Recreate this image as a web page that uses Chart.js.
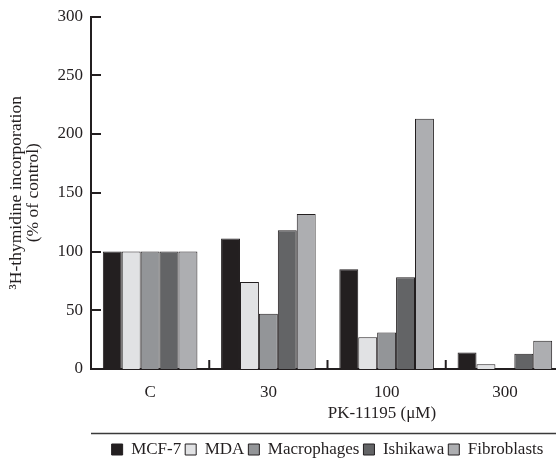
<!DOCTYPE html>
<html lang="en">
  <head>
    <meta charset="UTF-8" />
    <title>PK-11195 thymidine incorporation</title>
    <script src="https://cdn.jsdelivr.net/npm/chart.js"></script>
    <style>
      html, body { margin: 0; padding: 0; overflow: hidden; background: #fff; }
      #wrap { width: 566px; height: 463px; }
    </style>
  </head>
  <body>
    <div id="wrap"><canvas id="thymidineChart"></canvas></div>

    <script>
      // categories (PK-11195 concentration)
      const doses = ['C', '30', '100', '300']
      // series values, % of control
      const mcf7 = [100, 111, 85, 14]
      const mda = [100, 74, 27, 4]
      const macrophages = [100, 47, 31, 0]
      const ishikawa = [100, 118, 78, 13]
      const fibroblasts = [100, 132, 213, 24]
      const yTicks = [0, 50, 100, 150, 200, 250, 300]

      const ink = '#231f20'
      const serif = 'Liberation Serif, Times New Roman, serif'

      // little inward tick marks + separator line + x title
      const extras = {
        id: 'extras',
        afterLayout(chart) {
          // push the legend a bit lower
          chart.legend.top += 5
          chart.legend.bottom += 5
        },
        afterDraw(chart) {
          const ctx = chart.ctx
          const area = chart.chartArea
          const y = chart.scales.y
          const x = chart.scales.x
          ctx.save()
          ctx.strokeStyle = ink
          ctx.lineWidth = 2
          yTicks.forEach(v => {
            const py = Math.round(y.getPixelForValue(v))
            ctx.beginPath()
            ctx.moveTo(area.left, py)
            ctx.lineTo(area.left + 10, py)
            ctx.stroke()
          })
          for (let i = 1; i <= doses.length; i++) {
            const px = x.getPixelForValue(i - 0.5)
            ctx.beginPath()
            ctx.moveTo(px, area.bottom)
            ctx.lineTo(px, area.bottom - 9)
            ctx.stroke()
          }
          // line above legend
          ctx.lineWidth = 1.5
          ctx.strokeStyle = '#3a3a3a'
          ctx.beginPath()
          ctx.moveTo(area.left, 433.5)
          ctx.lineTo(chart.width, 433.5)
          ctx.stroke()
          // axis title
          ctx.fillStyle = ink
          ctx.font = '17px ' + serif
          ctx.textAlign = 'center'
          ctx.textBaseline = 'middle'
          ctx.fillText('PK-11195 (μM)', area.left + (area.right - area.left) * 0.615, 414)
          ctx.restore()
        }
      }

      function barSet(label, data, color) {
        return {
          label: label,
          data: data,
          backgroundColor: color,
          borderColor: ink,
          borderWidth: 1
        }
      }

      new Chart(document.getElementById('thymidineChart'), {
        type: 'bar',
        data: {
          labels: doses,
          datasets: [
            barSet('MCF-7', mcf7, '#231f20'),
            barSet('MDA', mda, '#e1e2e4'),
            barSet('Macrophages', macrophages, '#939598'),
            barSet('Ishikawa', ishikawa, '#636466'),
            barSet('Fibroblasts', fibroblasts, '#adaeb1')
          ]
        },
        options: {
          responsive: true,
          maintainAspectRatio: false,
          animation: false,
          layout: { padding: { top: 8, right: 2, left: 0, bottom: 0 } },
          datasets: { bar: { barPercentage: 1, categoryPercentage: 0.8 } },
          scales: {
            x: {
              offset: true,
              grid: { display: false, drawTicks: false },
              border: { display: true, color: ink, width: 2 },
              ticks: { color: ink, font: { family: serif, size: 17 }, padding: 13 },
              afterFit: s => { s.height = 63 }
            },
            y: {
              min: 0,
              max: 300,
              afterBuildTicks: s => { s.ticks = yTicks.map(v => ({ value: v })) },
              grid: { display: false, drawTicks: false },
              border: { display: true, color: ink, width: 2 },
              ticks: { color: ink, font: { family: serif, size: 17, lineHeight: 1.0 }, padding: 8 },
              title: {
                display: true,
                text: ['³H-thymidine incorporation', '(% of control)'],
                color: ink,
                font: { family: serif, size: 17.5, lineHeight: 1.0 },
                padding: { top: 7.5, bottom: 0 }
              },
              afterFit: s => { s.width = 91 }
            }
          },
          plugins: {
            tooltip: { enabled: false },
            legend: {
              position: 'bottom',
              fullSize: false,
              labels: {
                color: ink,
                font: { family: serif, size: 17 },
                boxWidth: 11,
                boxHeight: 11,
                padding: 4
              }
            }
          }
        },
        plugins: [extras]
      })
    </script>
  </body>
</html>
